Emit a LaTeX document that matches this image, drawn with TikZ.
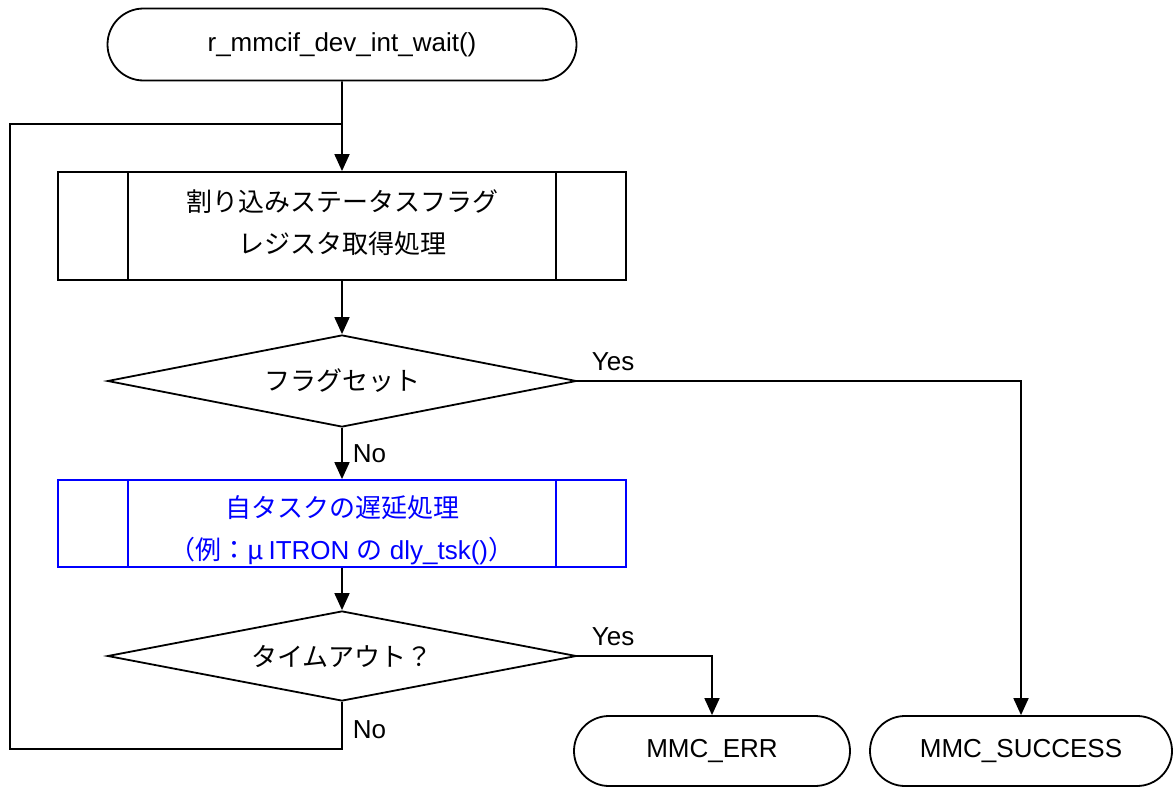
\documentclass[tikz,border=0pt]{standalone}
\usepackage{fontspec}
\setmainfont{Liberation Sans}
\newfontfamily\jp{Noto Sans CJK JP}
\usetikzlibrary{shapes.geometric,shapes.misc,arrows.meta}
\begin{document}
\begin{tikzpicture}[x=1pt,y=-1pt,line width=1.8pt,
  every node/.style={font=\fontsize{26}{41}\selectfont},
  term/.style={draw,rounded rectangle,inner sep=0pt,minimum height=72pt},
  proc/.style={draw,rectangle,inner sep=0pt,minimum width=568pt},
  ptext/.style={inner sep=0pt,align=center,font=\jp\fontsize{26}{42}\selectfont},
  dec/.style={draw,diamond,shape aspect=5,inner sep=0pt,minimum width=469pt,minimum height=92pt,font=\jp\fontsize{26}{41}\selectfont},
  lbl/.style={anchor=west,inner sep=0pt},
  arr/.style={-{Triangle[width=15pt,length=17pt]}}]
\useasboundingbox (0,0) rectangle (1173,787);

\node[term,minimum width=469pt] (start) at (342,44.5) {r\_mmcif\_dev\_int\_wait()};
\node[proc,minimum height=108pt] (p1) at (342,226) {};
\node[ptext] (p1t) at ([yshift=3pt]p1.center) {割り込みステータスフラグ\\レジスタ取得処理};
\node[dec] (d1) at (342,381) {フラグセット};
\node[proc,minimum height=87pt,draw=blue] (p2) at (342,523.5) {};
\node[ptext,text=blue] (p2t) at ([yshift=-7pt]p2.center)
  {自タスクの遅延処理\\（例：μ\,{\fontspec{Liberation Sans}ITRON\ }の{\fontspec{Liberation Sans}\ dly\_tsk()}）};
\node[dec,minimum height=90pt] (d2) at (342,656) {タイムアウト？};
\node[term,minimum width=276pt,minimum height=70pt] (err) at (712,751) {MMC\_ERR};
\node[term,minimum width=302pt,minimum height=70pt] (succ) at (1021,751) {MMC\_SUCCESS};

\foreach \n/\c in {p1/black,p2/blue}{
  \draw[\c] ([xshift=71pt]\n.north west) -- ([xshift=71pt]\n.south west);
  \draw[\c] ([xshift=-71pt]\n.north east) -- ([xshift=-71pt]\n.south east);
}

\coordinate (j) at (342,124);
\coordinate (tl) at (10,124);
\coordinate (bl) at (10,749);
\coordinate (br) at (342,749);

\draw[arr] (start) -- (p1);
\draw (d2.south) -- (br) -- (bl) -- (tl) -- (j);
\draw[arr] (p1) -- (d1);
\draw[arr] (d1) -- (p2);
\draw[arr] (p2) -- (d2);
\draw[arr] (d1.east) -| (succ.north);
\draw[arr] (d2.east) -| (err.north);

\node[lbl] (y1) at (591,362) {Yes};
\node[lbl] (y2) at (591,637) {Yes};
\node[lbl] (n1) at (352,454) {No};
\node[lbl] (n2) at (352,730) {No};
\end{tikzpicture}
\end{document}
